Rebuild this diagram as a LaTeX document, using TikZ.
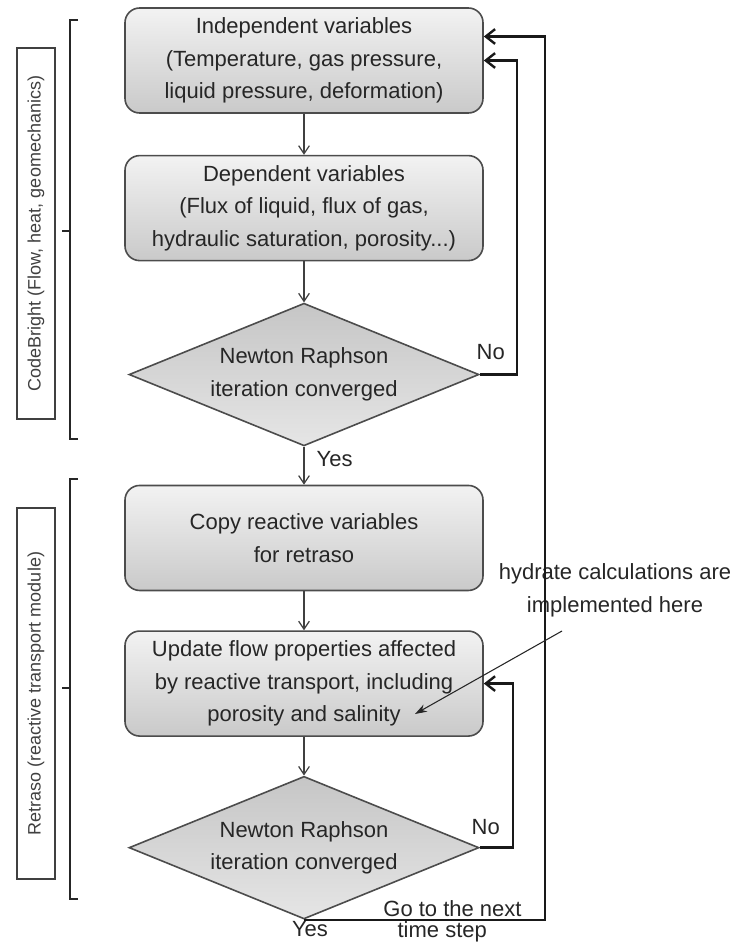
\documentclass[tikz,border=0pt]{standalone}
\usepackage{fontspec}
\setmainfont{Liberation Sans}
\usetikzlibrary{shapes.geometric, arrows.meta, positioning}

\begin{document}
\begin{tikzpicture}[
    x=0.75pt, y=-0.75pt,
    node distance=30.75pt,
    every node/.style={font=\fontsize{16.5}{24.5}\selectfont, text=black!85},
    box/.style={rectangle, rounded corners=11pt, minimum width=268.5pt,
                minimum height=78.75pt, align=center, draw=black!70,
                line width=1.2pt, top color=gray!10, bottom color=gray!42},
    decision/.style={diamond, aspect=2.45, minimum width=262.5pt,
                minimum height=107pt, inner sep=0pt, align=center,
                draw=black!70, line width=1.2pt,
                top color=gray!45, bottom color=gray!20},
    sidelabel/.style={rectangle, rotate=90, minimum width=278.25pt,
                minimum height=28.5pt, inner sep=0pt, draw=black!75,
                line width=1pt, font=\fontsize{13.5}{16}\selectfont,
                text=black!75},
    arr/.style={-{Straight Barb[length=6pt, width=8pt]}, line width=0.9pt,
                draw=black!75},
    loop/.style={-{Straight Barb[length=7pt, width=11pt]}, line width=1.8pt,
                draw=black!90},
    brace/.style={line width=1.5pt, draw=black!85},
]
\useasboundingbox (0,4) rectangle (734,948);

% main column
\node[box] (indep) at (304,64.5) {Independent variables\\(Temperature, gas pressure,\\liquid pressure, deformation)};
\node[box, below=of indep] (dep) {Dependent variables\\(Flux of liquid, flux of gas,\\hydraulic saturation, porosity...)};
\node[decision, below=of dep] (conv1) {Newton Raphson\\iteration converged};
\node[box, below=28.5pt of conv1] (copy) {Copy reactive variables\\for retraso};
\node[box, below=29.25pt of copy] (update) {Update flow properties affected\\by reactive transport, including\\porosity and salinity};
\node[decision, below=29pt of update] (conv2) {Newton Raphson\\iteration converged};

% side labels
\node[sidelabel] (cblabel) at (36,237.5) {CodeBright (Flow, heat, geomechanics)};
\node[sidelabel] (rtlabel) at (36,697.5) {Retraso (reactive transport module)};

\draw[brace] (78,24) -- (70,24) -- (70,443) -- (78,443);
\draw[brace] (70,235) -- (62,235);
\draw[brace] (78,483) -- (70,483) -- (70,903) -- (78,903);
\draw[brace] (70,692) -- (62,692);

% labels on the connectors
\node (no1) at ([shift={(11,-22)}]conv1.east) {No};
\node (no2) at ([shift={(6,-21)}]conv2.east) {No};
\node[below right=0pt and 6pt of conv1.south] (yes1) {Yes};
\node[below=0pt of conv2.south, xshift=4.5pt, inner sep=1pt] (yes2) {Yes};
\node[above right=-1.5pt and 56pt of conv2.south] (next) {Go to the next};
\node[below right=0pt and 69pt of conv2.south, inner sep=1pt] (tstep) {time step};

% note
\node[align=center] (note) at (615,594) {hydrate calculations are\\implemented here};
\coordinate (hydtail) at (562,635);
\coordinate (hydhead) at (415,718);

\draw[arr] (indep) -- (dep);
\draw[arr] (dep)   -- (conv1);
\draw[arr] (conv1) -- (copy);
\draw[arr] (copy)  -- (update);
\draw[arr] (update) -- (conv2);
\draw[loop] (conv1.east) -- ++(37,0) |- (indep.east);
\draw[loop] (conv2.east) -- ++(33,0) |- (update.east);
\draw[loop] (conv2.south) -- ++(241,0) |- ([yshift=18pt]indep.east);
\draw[-{Stealth[length=9pt, width=6pt]}, line width=0.8pt, black!85] (hydtail) -- (hydhead);

\end{tikzpicture}
\end{document}
